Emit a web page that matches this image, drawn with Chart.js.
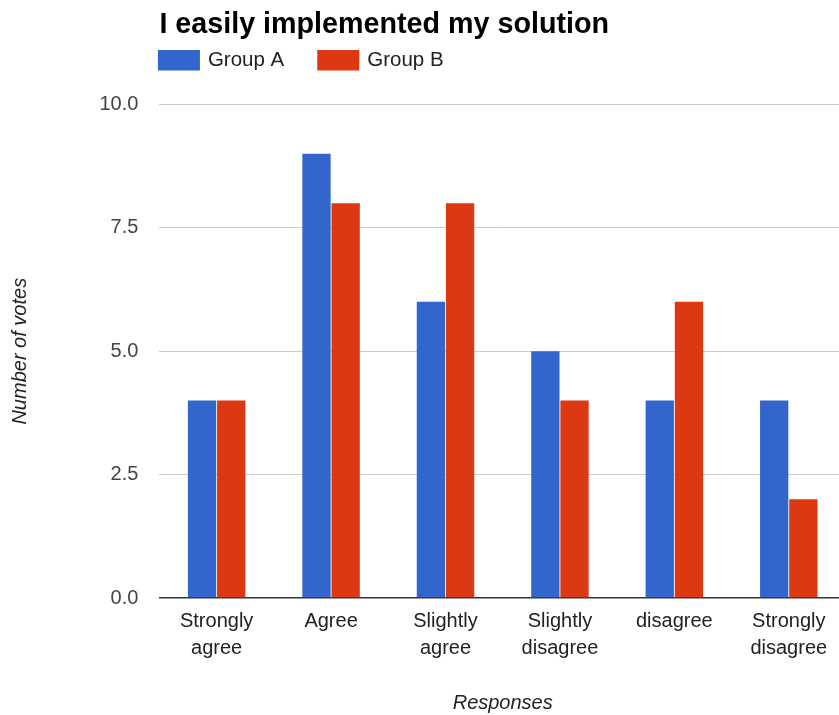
<!DOCTYPE html>
<html>
<head>
<meta charset="utf-8">
<title>I easily implemented my solution</title>
<script src="https://cdn.jsdelivr.net/npm/chart.js@4.4.1/dist/chart.umd.min.js"></script>
<style>
    html, body {
        margin: 0;
        padding: 0;
        background: #ffffff;
        overflow: hidden;
    }
    #wrap {
        width: 839px;
        height: 715px;
        overflow: hidden;
    }
</style>
</head>
<body>
<div id="wrap">
    <canvas id="votesChart" width="860" height="715"></canvas>
</div>
<script>
const responses = [
    ["Strongly", "agree"],
    ["Agree"],
    ["Slightly", "agree"],
    ["Slightly", "disagree"],
    ["disagree"],
    ["Strongly", "disagree"]
];
const groupAVotes = [4, 9, 6, 5, 4, 4];
const groupBVotes = [4, 8, 8, 4, 6, 2];
const seriesNames = ["Group A", "Group B"];
const yTickValues = [0, 2.5, 5, 7.5, 10];

const FONT = "'Liberation Sans', Arial, Helvetica, sans-serif";

// legend row drawn under the title, lined up with the plot's left edge
const legendRow = {
    id: "legendRow",
    afterDraw(chart) {
        const ctx = chart.ctx;
        let x = chart.chartArea.left - 1.5;
        const boxW = 42;
        const boxH = 20.5;
        const boxTop = 50;

        ctx.save();
        ctx.font = "20.5px " + FONT;
        ctx.textBaseline = "middle";
        ctx.textAlign = "left";

        chart.data.datasets.forEach(ds => {
            ctx.fillStyle = ds.backgroundColor;
            ctx.fillRect(x, boxTop, boxW, boxH);
            const textX = x + boxW + 8;
            ctx.fillStyle = "#222222";
            ctx.fillText(ds.label, textX, boxTop + boxH / 2);
            x = textX + ctx.measureText(ds.label).width + 33;
        });

        ctx.restore();
    }
};

const ctx = document.getElementById("votesChart").getContext("2d");

const votesChart = new Chart(ctx, {
    type: "bar",
    data: {
        labels: responses,
        datasets: [
            {
                label: seriesNames[0],
                data: groupAVotes,
                backgroundColor: "#3366cc"
            },
            {
                label: seriesNames[1],
                data: groupBVotes,
                backgroundColor: "#dc3912"
            }
        ]
    },
    options: {
        responsive: false,
        animation: false,
        layout: {
            padding: { left: 0, right: 14, top: 0, bottom: 0 }
        },
        datasets: {
            bar: {
                categoryPercentage: 0.51,
                barPercentage: 0.97
            }
        },
        plugins: {
            legend: { display: false },
            tooltip: { enabled: false },
            title: {
                display: true,
                text: "I easily implemented my solution",
                align: "start",
                fullSize: false,
                color: "#000000",
                font: { family: FONT, size: 28.7, weight: "bold", lineHeight: 1.2 },
                padding: { top: 8, bottom: 62 }
            }
        },
        scales: {
            x: {
                grid: { display: false, drawTicks: false },
                border: { display: false },
                ticks: {
                    color: "#222222",
                    padding: 10,
                    maxRotation: 0,
                    autoSkip: false,
                    font: { family: FONT, size: 20, lineHeight: 1.35 }
                },
                title: {
                    display: true,
                    text: "Responses",
                    color: "#222222",
                    font: { family: FONT, size: 20, style: "italic", lineHeight: 1.2 },
                    padding: { top: 19, bottom: 0 }
                }
            },
            y: {
                min: 0,
                max: 10,
                afterBuildTicks: scale => {
                    scale.ticks = yTickValues.map(v => ({ value: v }));
                },
                border: { display: false },
                grid: {
                    drawTicks: false,
                    color: c => c.tick && c.tick.value === 0 ? "#333333" : "#cccccc",
                    lineWidth: c => c.tick && c.tick.value === 0 ? 1.5 : 1
                },
                ticks: {
                    color: "#444444",
                    padding: 21,
                    font: { family: FONT, size: 20 },
                    callback: value => Number(value).toFixed(1)
                },
                title: {
                    display: true,
                    text: "Number of votes",
                    color: "#222222",
                    font: { family: FONT, size: 20, style: "italic", lineHeight: 1.2 },
                    padding: { top: 8.5, bottom: 46 }
                }
            }
        }
    },
    plugins: [legendRow]
});
</script>
</body>
</html>
